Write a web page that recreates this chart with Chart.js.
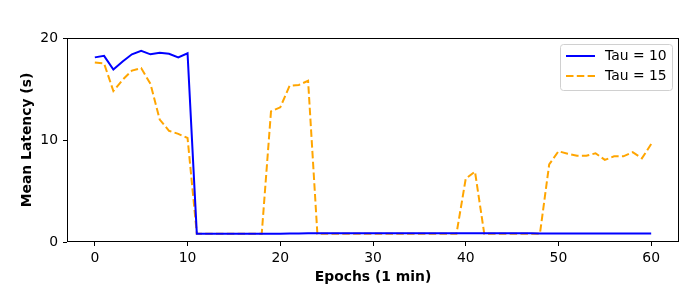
<!DOCTYPE html>
<html>
<head>
<meta charset="utf-8">
<script src="https://cdn.jsdelivr.net/npm/chart.js@4.4.1/dist/chart.umd.min.js"></script>
<style>
  html, body { margin: 0; padding: 0; background: #fff; }
  #wrap { width: 700px; height: 300px; }
</style>
</head>
<body>
<div id="wrap"><canvas id="latencyChart"></canvas></div>
<script>
// data
const epochs = [0, 1, 2, 3, 4, 5, 6, 7, 8, 9, 10, 11, 12, 13, 14, 15, 16, 17, 18, 19, 20,
    21, 22, 23, 24, 25, 26, 27, 28, 29, 30, 31, 32, 33, 34, 35, 36, 37, 38, 39, 40,
    41, 42, 43, 44, 45, 46, 47, 48, 49, 50, 51, 52, 53, 54, 55, 56, 57, 58, 59, 60];

const tau10 = [18.1, 18.25, 16.9, 17.7, 18.4, 18.75, 18.4, 18.55, 18.45, 18.1, 18.5,
    0.82, 0.82, 0.82, 0.82, 0.82, 0.82, 0.82, 0.82, 0.82, 0.82,
    0.83, 0.83, 0.85, 0.85, 0.85, 0.85, 0.85, 0.85, 0.85, 0.85,
    0.86, 0.86, 0.86, 0.86, 0.86, 0.86, 0.86, 0.86, 0.86, 0.86,
    0.86, 0.85, 0.85, 0.85, 0.85, 0.85, 0.85, 0.84, 0.84, 0.84,
    0.84, 0.84, 0.84, 0.84, 0.83, 0.83, 0.83, 0.83, 0.83, 0.83];

const tau15 = [17.6, 17.5, 14.8, 15.9, 16.8, 17.05, 15.5, 12.0, 10.9, 10.6, 10.2,
    0.8, 0.8, 0.8, 0.8, 0.8, 0.8, 0.8, 0.8,
    12.8, 13.2, 15.3, 15.4, 15.8,
    0.8, 0.8, 0.8, 0.8, 0.8, 0.8, 0.8, 0.8, 0.8, 0.8, 0.8, 0.8, 0.8, 0.8, 0.8, 0.8,
    6.2, 6.9,
    0.8, 0.8, 0.8, 0.8, 0.8, 0.8, 0.8,
    7.6, 8.9, 8.65, 8.45, 8.45, 8.7, 8.05, 8.4, 8.4, 8.8, 8.2, 9.6];

const xTicks = [0, 10, 20, 30, 40, 50, 60];
const yTicks = [0, 10, 20];

const FONT = 'DejaVu Sans';
const FS = 13.9; // 10pt at 100 dpi

// black frame round the plot area, like matplotlib spines
const framePlugin = {
    id: 'frame',
    afterDatasetsDraw(chart) {
        const { ctx, chartArea: a } = chart;
        ctx.save();
        ctx.strokeStyle = '#000';
        ctx.lineWidth = 1;
        ctx.strokeRect(Math.round(a.left) + 0.5, Math.round(a.top) + 0.5,
            Math.round(a.right - a.left) - 1, Math.round(a.bottom - a.top) - 1);
        ctx.restore();
    }
};

// legend drawn inside the plot, top right
const insideLegend = {
    id: 'insideLegend',
    afterDraw(chart) {
        const { ctx, chartArea: a } = chart;
        const sets = chart.data.datasets;
        const w = 112, h = 46;
        const x = a.right - 7 - w, y = a.top + 6;
        ctx.save();
        ctx.fillStyle = 'rgba(255,255,255,0.8)';
        ctx.strokeStyle = '#d0d0d0';
        ctx.lineWidth = 1;
        ctx.beginPath();
        ctx.roundRect(x + 0.5, y + 0.5, w, h, 3);
        ctx.fill();
        ctx.stroke();
        ctx.font = FS + 'px ' + FONT;
        ctx.textBaseline = 'middle';
        sets.forEach((ds, i) => {
            const ly = y + 12 + i * 20;
            ctx.strokeStyle = ds.borderColor;
            ctx.lineWidth = ds.borderWidth;
            ctx.setLineDash(ds.borderDash || []);
            ctx.beginPath();
            ctx.moveTo(x + 6, ly);
            ctx.lineTo(x + 35, ly);
            ctx.stroke();
            ctx.setLineDash([]);
            ctx.fillStyle = '#000';
            ctx.fillText(ds.label, x + 45, ly);
        });
        ctx.restore();
    }
};

const ctx = document.getElementById('latencyChart').getContext('2d');

new Chart(ctx, {
    type: 'line',
    data: {
        datasets: [{
            label: 'Tau = 10',
            data: epochs.map((e, i) => ({ x: e, y: tau10[i] })),
            borderColor: '#0000ff',
            borderWidth: 2,
            pointRadius: 0,
            tension: 0
        }, {
            label: 'Tau = 15',
            data: epochs.map((e, i) => ({ x: e, y: tau15[i] })),
            borderColor: '#ffa500',
            borderWidth: 2,
            borderDash: [7.5, 3.3],
            pointRadius: 0,
            tension: 0
        }]
    },
    options: {
        responsive: true,
        maintainAspectRatio: false,
        animation: false,
        layout: { padding: { top: 38, right: 21, left: 0, bottom: 0 } },
        plugins: {
            legend: { display: false },
            tooltip: { enabled: false }
        },
        scales: {
            x: {
                type: 'linear',
                min: -3,
                max: 63,
                afterBuildTicks: s => { s.ticks = xTicks.map(v => ({ value: v })); },
                afterFit: s => { s.height = 58; },
                border: { display: false },
                grid: { drawOnChartArea: false, drawTicks: true, tickLength: 4, color: '#000' },
                ticks: { color: '#000', padding: 4, font: { family: FONT, size: FS } },
                title: {
                    display: true,
                    text: 'Epochs (1 min)',
                    color: '#000',
                    padding: { top: 2, bottom: 14 },
                    font: { family: FONT, size: FS, weight: 'bold' }
                }
            },
            y: {
                min: 0,
                max: 20,
                afterBuildTicks: s => { s.ticks = yTicks.map(v => ({ value: v })); },
                afterFit: s => { s.width = 67; },
                border: { display: false },
                grid: { drawOnChartArea: false, drawTicks: true, tickLength: 4, color: '#000' },
                ticks: { color: '#000', padding: 5, font: { family: FONT, size: FS } },
                title: {
                    display: true,
                    text: 'Mean Latency (s)',
                    color: '#000',
                    padding: { bottom: 0, top: 19 },
                    font: { family: FONT, size: FS, weight: 'bold' }
                }
            }
        }
    },
    plugins: [framePlugin, insideLegend]
});
</script>
</body>
</html>
